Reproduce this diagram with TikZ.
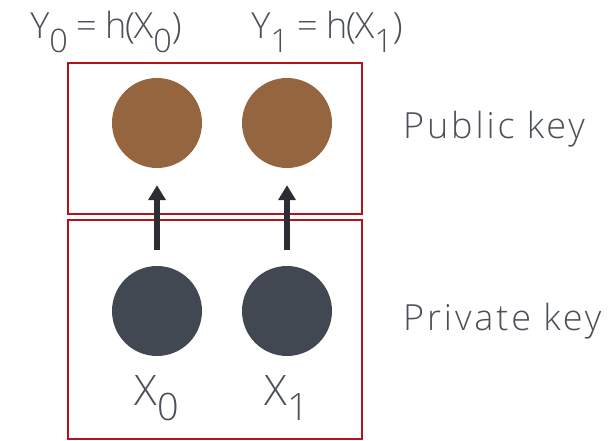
\documentclass[tikz,border=0pt]{standalone}
\usepackage{fontspec}
\setmainfont{Open Sans}[UprightFont=* Light]
\usetikzlibrary{arrows.meta}
\definecolor{keyred}{HTML}{B5121B}
\definecolor{pubbrown}{HTML}{956540}
\definecolor{privgray}{HTML}{414851}
\definecolor{txtgray}{HTML}{4A5058}
\definecolor{arrowgray}{HTML}{2D2E33}
\newcommand{\lowsub}[1]{\raisebox{-0.38em}{\scalebox{0.9}{#1}}}
\begin{document}
\begin{tikzpicture}[x=1pt, y=-1pt, >={Triangle[length=15pt,width=17pt]},
  keybox/.style={draw=keyred, line width=2pt},
  pubdot/.style={circle, fill=pubbrown, minimum size=90pt, inner sep=0pt},
  privdot/.style={circle, fill=privgray, minimum size=90pt, inner sep=0pt},
  lbl/.style={text=txtgray, font=\fontsize{36}{40}\selectfont, inner sep=0pt},
  hashlbl/.style={lbl, font=\fontsize{36}{40}\selectfont\addfontfeatures{LetterSpace=-3}},
  keylbl/.style={lbl, font=\fontsize{36}{40}\selectfont\addfontfeatures{LetterSpace=8}},
  xlbl/.style={text=txtgray, font=\fontsize{42}{46}\selectfont, inner sep=0pt}]
  \useasboundingbox (0,0) rectangle (616,441);
  % the two key boxes
  \draw[keybox] (68,63) rectangle (362,214);
  \draw[keybox] (68,220) rectangle (362,439);
  % public and private values
  \node[pubdot] (pub0) at (157,123) {};
  \node[pubdot] (pub1) at (287,123) {};
  \node[privdot] (priv0) at (157,311) {};
  \node[privdot] (priv1) at (287,311) {};
  \foreach \k in {0,1}{
    \draw[->, arrowgray, line width=6.5pt, shorten <=16pt, shorten >=17pt] (priv\k) -- (pub\k);
  }
  % labels
  \node[hashlbl, anchor=base] (hash0) at (106,39) {Y\lowsub{0} = h(X\lowsub{0})};
  \node[hashlbl, anchor=base] (hash1) at (327,39) {Y\lowsub{1} = h(X\lowsub{1})};
  \node[xlbl, anchor=base] (name0) at (157,405) {X\lowsub{0}};
  \node[xlbl, anchor=base] (name1) at (287,405) {X\lowsub{1}};
  \node[keylbl, anchor=base west] (publbl) at (403,139) {Public key};
  \node[keylbl, anchor=base west] (privlbl) at (403,330) {Private key};
\end{tikzpicture}
\end{document}
